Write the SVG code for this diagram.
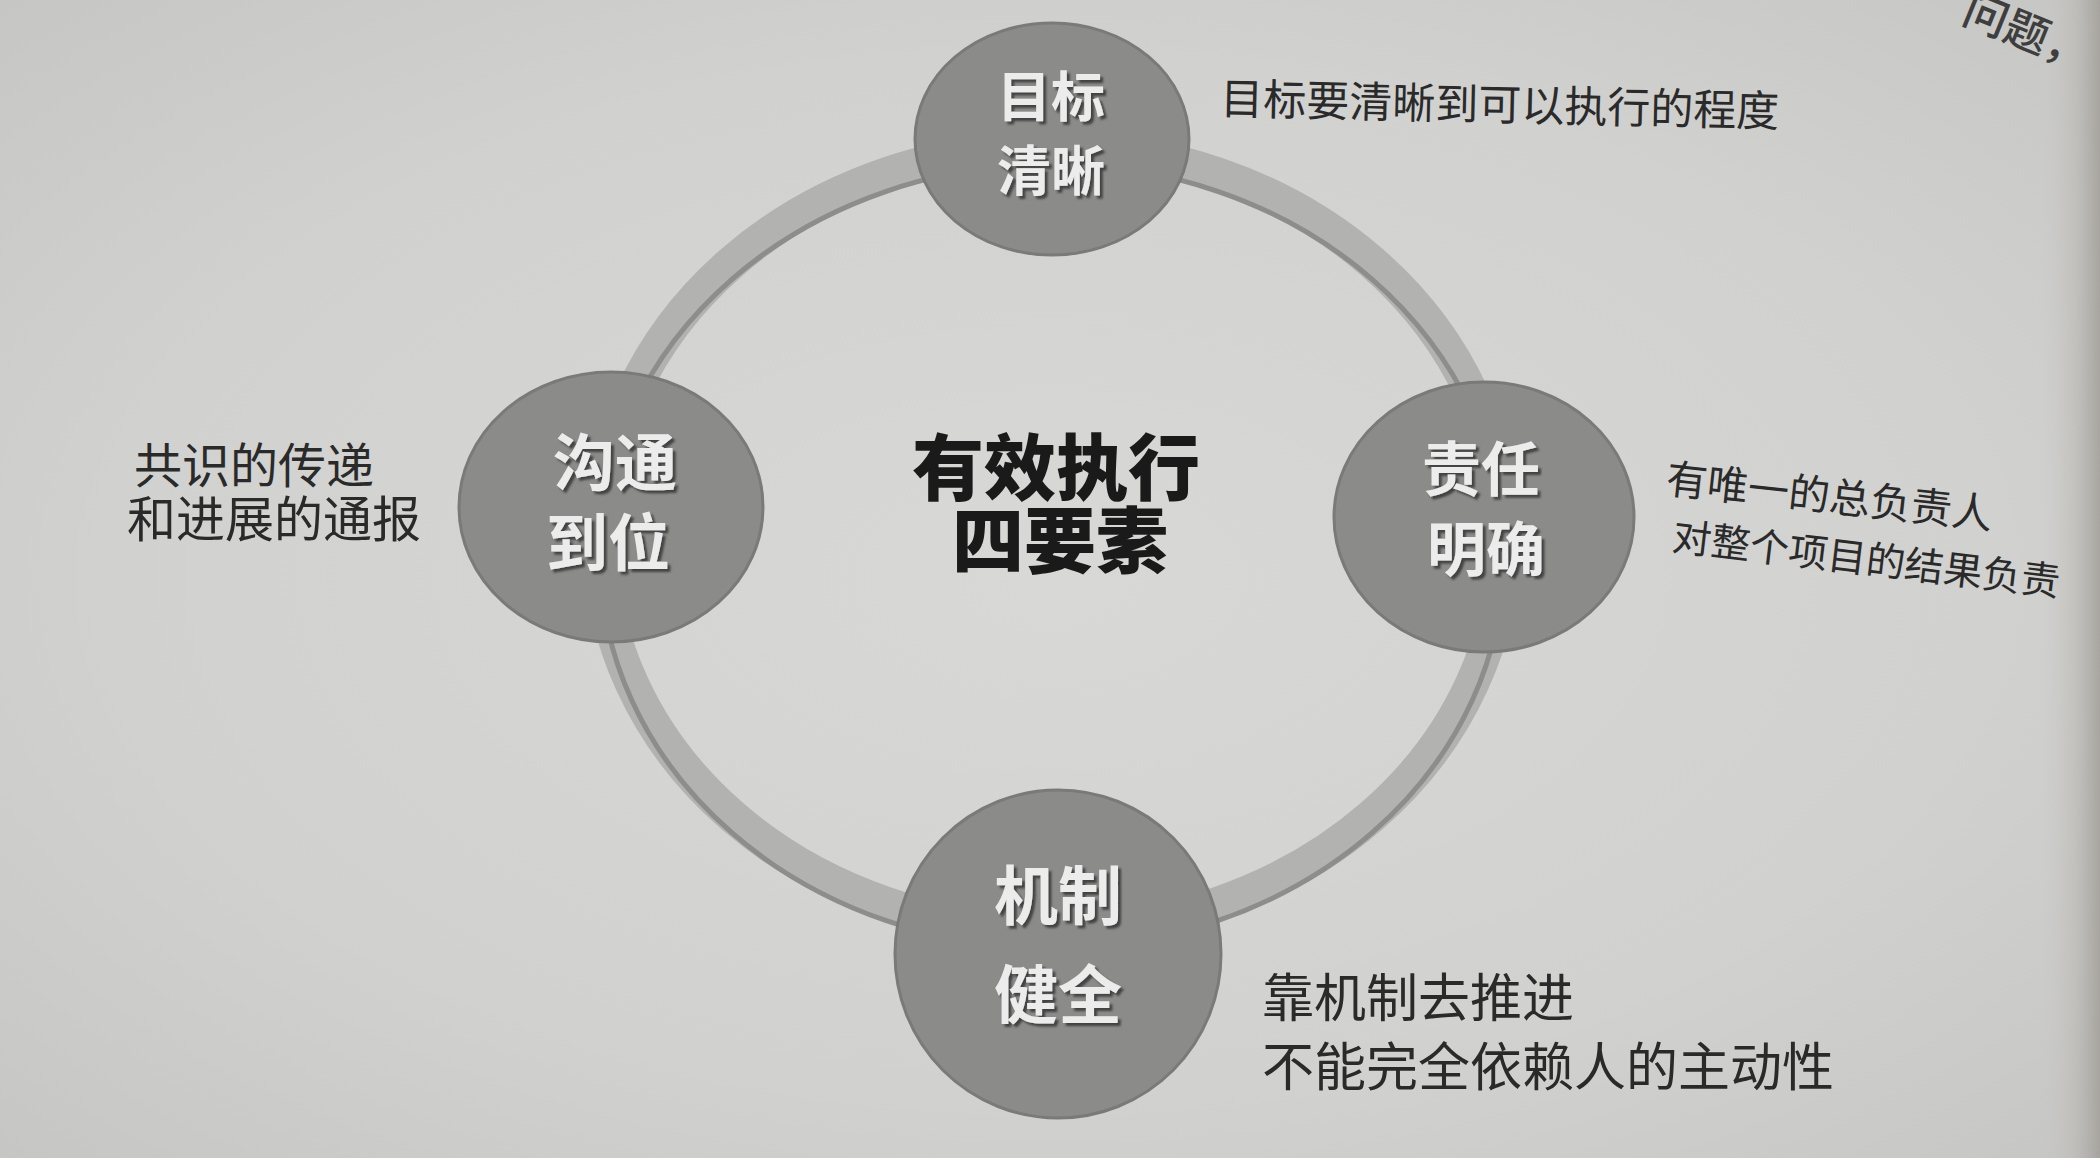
<svg xmlns="http://www.w3.org/2000/svg" width="2100" height="1158" viewBox="0 0 2100 1158">
<defs>
<radialGradient id="bg" cx="0.5" cy="0.5" r="0.75">
<stop offset="0" stop-color="#d8d8d6"/>
<stop offset="0.6" stop-color="#d1d1cf"/>
<stop offset="1" stop-color="#c4c4c2"/>
</radialGradient>
<linearGradient id="edge" x1="0" y1="0" x2="1" y2="0">
<stop offset="0" stop-color="#c8c7c4" stop-opacity="0"/>
<stop offset="0.6" stop-color="#b9b7b3" stop-opacity="0.6"/>
<stop offset="1" stop-color="#a19d97" stop-opacity="0.85"/>
</linearGradient>
<filter id="sh" x="-10%" y="-20%" width="130%" height="150%">
<feDropShadow dx="3" dy="3" stdDeviation="1.2" flood-color="#3a3a3a" flood-opacity="0.9"/>
</filter>
<style>
.node{fill:#8b8b89;stroke:#7a7a78;stroke-width:3}
.nt{font-family:"Noto Sans CJK SC","Noto Sans",sans-serif;font-weight:700;text-anchor:middle;fill:#ececec;filter:url(#sh)}
.ann{font-family:"Noto Sans CJK SC","Noto Sans",sans-serif;font-weight:400;fill:#2a2a2a}
.title{font-family:"Noto Sans CJK SC","Noto Sans",sans-serif;font-weight:900;fill:#1a1a1a;text-anchor:middle;font-size:72px}
</style>
</defs>
<rect x="0" y="0" width="2100" height="1158" fill="url(#bg)"/>
<rect x="2040" y="0" width="60" height="1158" fill="url(#edge)"/>
<text x="1960" y="22" font-size="44" font-weight="500" fill="#3e3e3e" font-family="Noto Sans CJK SC, sans-serif" transform="rotate(22 1960 22)">问题，</text>

<g id="connectors">
<ellipse cx="1052" cy="539" rx="452" ry="392" fill="none" stroke="#b2b2b0" stroke-width="34"/>
<ellipse cx="1052" cy="556" rx="452" ry="392" fill="none" stroke="#8d8d8b" stroke-width="5"/>
</g>

<g id="center">
<text class="title"><tspan x="1056" y="494">有效执行</tspan><tspan x="1060" y="567">四要素</tspan></text>
</g>

<g id="node-top">
<ellipse class="node" cx="1052" cy="139" rx="137" ry="116"/>
<text class="nt" font-size="54"><tspan x="1051" y="117">目标</tspan><tspan x="1051" y="191">清晰</tspan></text>
</g>

<g id="node-left">
<ellipse class="node" cx="611" cy="507" rx="152" ry="135"/>
<text class="nt" font-size="62"><tspan x="615" y="486">沟通</tspan><tspan x="608" y="566">到位</tspan></text>
</g>

<g id="node-right">
<ellipse class="node" cx="1484" cy="517" rx="150" ry="135"/>
<text class="nt" font-size="59"><tspan x="1481" y="491">责任</tspan><tspan x="1486" y="571">明确</tspan></text>
</g>

<g id="node-bottom">
<ellipse class="node" cx="1058" cy="954" rx="163" ry="164"/>
<text class="nt" font-size="64"><tspan x="1058" y="919">机制</tspan><tspan x="1058" y="1018">健全</tspan></text>
</g>

<g id="annotations">
<text class="ann" x="1220" y="114" font-size="43" transform="rotate(1.3 1220 114)">目标要清晰到可以执行的程度</text>
<text class="ann"><tspan x="134" y="483" font-size="48">共识的传递</tspan><tspan x="127" y="537" font-size="49">和进展的通报</tspan></text>
<text class="ann" x="1665" y="493" font-size="41" transform="rotate(6.3 1665 493)">有唯一的总负责人</text>
<text class="ann" x="1671" y="550" font-size="39" transform="rotate(6.8 1671 550)">对整个项目的结果负责</text>
<text class="ann"><tspan x="1262" y="1017" font-size="52">靠机制去推进</tspan><tspan x="1262" y="1086" font-size="52">不能完全依赖人的主动性</tspan></text>
</g>
</svg>
